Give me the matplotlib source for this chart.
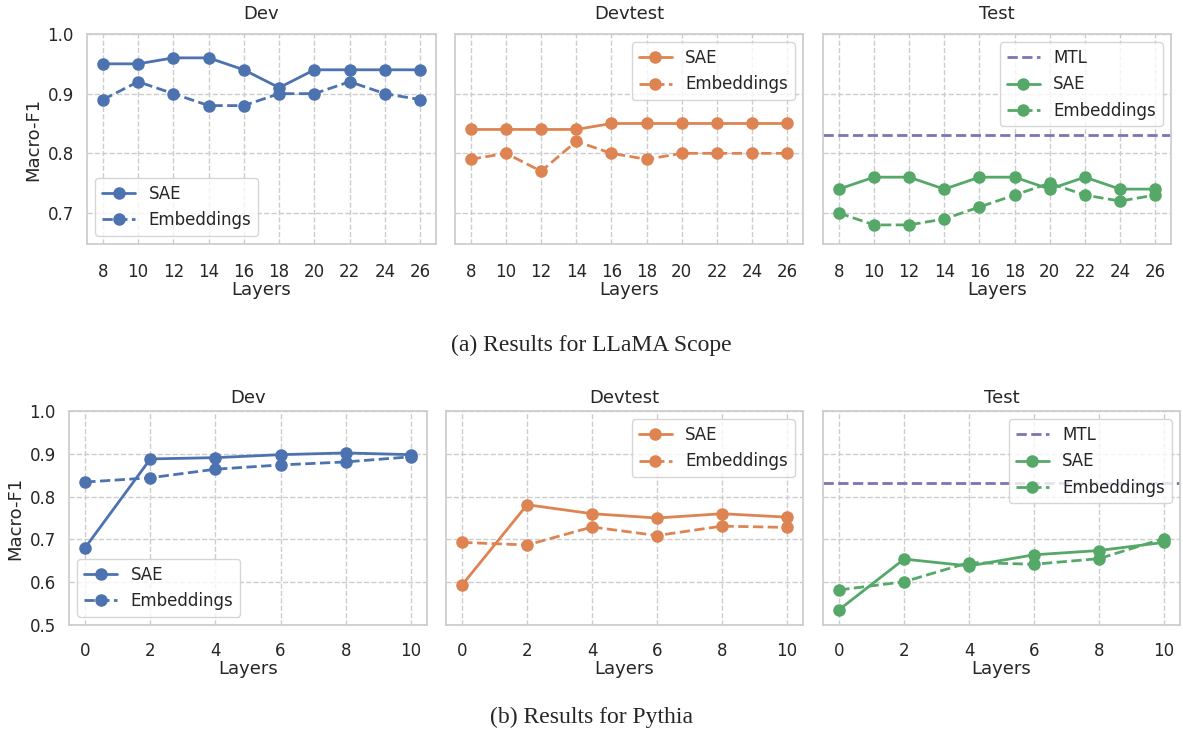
import matplotlib
matplotlib.use("Agg")
import matplotlib.pyplot as plt
import seaborn as sns

sns.set_theme(style="whitegrid", context="notebook",
              rc={"grid.linestyle": "--", "axes.edgecolor": ".8"})
plt.rcParams["font.family"] = ["DejaVu Sans"]

BLUE, ORANGE, GREEN, PURPLE = sns.color_palette("deep")[0], sns.color_palette("deep")[1], \
    sns.color_palette("deep")[2], sns.color_palette("deep")[4]

# (a) LLaMA Scope
llama_layers = [8, 10, 12, 14, 16, 18, 20, 22, 24, 26]
llama_dev_sae = [0.95, 0.95, 0.96, 0.96, 0.94, 0.91, 0.94, 0.94, 0.94, 0.94]
llama_dev_emb = [0.89, 0.92, 0.90, 0.88, 0.88, 0.90, 0.90, 0.92, 0.90, 0.89]
llama_devtest_sae = [0.84, 0.84, 0.84, 0.84, 0.85, 0.85, 0.85, 0.85, 0.85, 0.85]
llama_devtest_emb = [0.79, 0.80, 0.77, 0.82, 0.80, 0.79, 0.80, 0.80, 0.80, 0.80]
llama_test_sae = [0.74, 0.76, 0.76, 0.74, 0.76, 0.76, 0.74, 0.76, 0.74, 0.74]
llama_test_emb = [0.70, 0.68, 0.68, 0.69, 0.71, 0.73, 0.75, 0.73, 0.72, 0.73]
llama_mtl = 0.83

# (b) Pythia
pythia_layers = [0, 2, 4, 6, 8, 10]
pythia_dev_sae = [0.681, 0.888, 0.891, 0.898, 0.902, 0.898]
pythia_dev_emb = [0.834, 0.844, 0.864, 0.874, 0.881, 0.893]
pythia_devtest_sae = [0.594, 0.781, 0.760, 0.750, 0.760, 0.752]
pythia_devtest_emb = [0.693, 0.687, 0.729, 0.709, 0.731, 0.728]
pythia_test_sae = [0.536, 0.654, 0.638, 0.664, 0.674, 0.693]
pythia_test_emb = [0.582, 0.601, 0.646, 0.642, 0.655, 0.702]
pythia_mtl = 0.831

W, H = 1183, 732
fig = plt.figure(figsize=(W / 100, H / 100), dpi=100)


def px_axes(left, top, right, bottom):
  return fig.add_axes([left / W, 1 - bottom / H, (right - left) / W, (bottom - top) / H])


def panel(ax, x, sae, emb, color, title, mtl=None, loc="upper right", tickpad=6, titlepad=6):
  if mtl is not None:
    ax.axhline(mtl, color=PURPLE, ls="--", lw=2, label="MTL")
  ax.plot(x, sae, "-o", color=color, lw=2, ms=8, label="SAE")
  ax.plot(x, emb, "--o", color=color, lw=2, ms=8, label="Embeddings")
  ax.set_title(title, fontsize=13, pad=titlepad)
  ax.set_xlabel("Layers", fontsize=13, labelpad=0)
  ax.set_xticks(x)
  ax.tick_params(labelsize=12)
  ax.tick_params(axis="x", pad=tickpad)
  ax.margins(x=0.05)
  ax.legend(loc=loc, fontsize=12, handlelength=2.0, borderpad=0.4)


top_boxes = [(87, 34, 436, 244), (455, 34, 803, 244), (823, 34, 1171, 244)]
bot_boxes = [(69, 411, 427, 625), (446, 411, 803, 625), (823, 411, 1180, 625)]

a1, a2, a3 = [px_axes(*b) for b in top_boxes]
panel(a1, llama_layers, llama_dev_sae, llama_dev_emb, BLUE, "Dev", loc="lower left",
      tickpad=8, titlepad=11)
panel(a2, llama_layers, llama_devtest_sae, llama_devtest_emb, ORANGE, "Devtest",
      tickpad=8, titlepad=11)
panel(a3, llama_layers, llama_test_sae, llama_test_emb, GREEN, "Test", mtl=llama_mtl,
      tickpad=8, titlepad=11)
for ax in (a1, a2, a3):
  ax.set_ylim(0.648, 1.0)
  ax.set_yticks([0.7, 0.8, 0.9, 1.0])
for ax in (a2, a3):
  ax.set_yticklabels([])
a1.set_ylabel("Macro-F1", fontsize=13)

b1, b2, b3 = [px_axes(*b) for b in bot_boxes]
panel(b1, pythia_layers, pythia_dev_sae, pythia_dev_emb, BLUE, "Dev", loc="lower left")
panel(b2, pythia_layers, pythia_devtest_sae, pythia_devtest_emb, ORANGE, "Devtest")
panel(b3, pythia_layers, pythia_test_sae, pythia_test_emb, GREEN, "Test", mtl=pythia_mtl)
for ax in (b1, b2, b3):
  ax.set_ylim(0.5, 1.0)
  ax.set_yticks([0.5, 0.6, 0.7, 0.8, 0.9, 1.0])
for ax in (b2, b3):
  ax.set_yticklabels([])
b1.set_ylabel("Macro-F1", fontsize=13)

fig.text(0.5, 1 - 345 / H, "(a) Results for LLaMA Scope", ha="center", va="center",
         family="Liberation Serif", fontsize=17)
fig.text(0.5, 1 - 717 / H, "(b) Results for Pythia", ha="center", va="center",
         family="Liberation Serif", fontsize=17)

fig.savefig("out.png", dpi=100)
